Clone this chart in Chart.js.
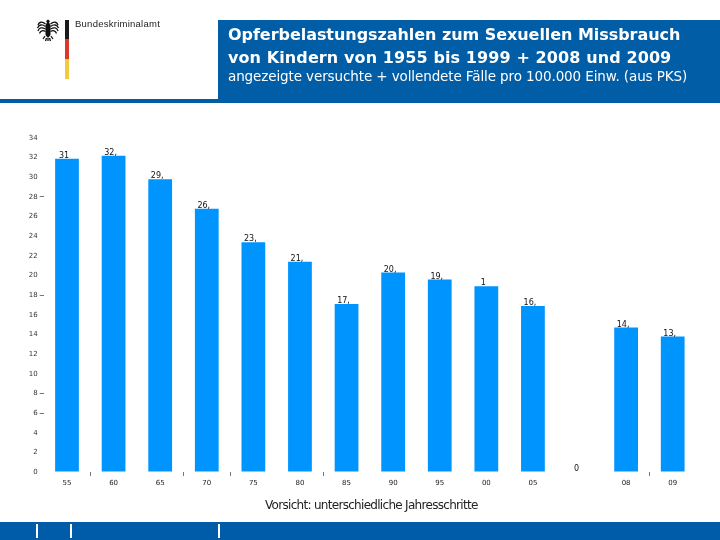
<!DOCTYPE html>
<html>
<head>
<meta charset="utf-8">
<script src="https://cdn.jsdelivr.net/npm/chart.js@4"></script>
<style>
  html, body { margin: 0; padding: 0; background: #fff; }
  #page { position: relative; width: 720px; height: 540px; overflow: hidden; font-family: "DejaVu Sans", sans-serif; }
  #page div { position: absolute; white-space: nowrap; }
  canvas { position: absolute; left: 0; top: 0; }
  .white { color: #fff; }
</style>
</head>
<body>
<div id="page">
  <canvas id="chart" width="720" height="540"></canvas>

  <!-- logo -->
  <svg style="position:absolute;left:36px;top:18px" width="24" height="24" viewBox="0 0 24 24">
    <g fill="none" stroke="#111" stroke-width="1.300">
      <path d="M9.500 6C6 3 3 4 2 7M9.500 8.500C6 6 3 6.500 1.500 10M9.500 11C6 9 3 9.500 2 13M9.500 13.500C7 12 4.500 12.500 3.500 15.500"/>
      <path d="M14.500 6C18 3 21 4 22 7M14.500 8.500C18 6 21 6.500 22.500 10M14.500 11C18 9 21 9.500 22 13M14.500 13.500C17 12 19.500 12.500 20.500 15.500"/>
      <path d="M9 18l-2 3M15 18l2 3M12 20v3M10.500 20l-1 3M13.500 20l1 3"/>
    </g>
    <path fill="#111" d="M12 1.500l2 1.500-1 1.500 1.500 2.500v10l-2.500 3-2.500-3v-10l1.500-2.500-1-1.500z"/>
  </svg>
  <div style="left:65px;top:20px;width:4px;height:19px;background:#1a1a1a"></div>
  <div style="left:65px;top:39px;width:4px;height:20px;background:#d8392b"></div>
  <div style="left:65px;top:59px;width:4px;height:20px;background:#f2cb3d"></div>
  <div style="left:75px;top:18px;font:9.500px 'Liberation Sans';letter-spacing:.25px;color:#222">Bundeskriminalamt</div>

  <!-- header -->
  <div style="left:0;top:99px;width:218px;height:4px;background:#005da3"></div>
  <div style="left:218px;top:20px;width:502px;height:83px;background:#005da6"></div>
  <div class="white" style="left:228px;top:24px;font:bold 16px/22px 'DejaVu Sans';letter-spacing:-.05px">Opferbelastungszahlen zum Sexuellen Missbrauch</div>
  <div class="white" style="left:228px;top:47px;font:bold 16px/22px 'DejaVu Sans';letter-spacing:.1px">von Kindern von 1955 bis 1999 + 2008 und 2009</div>
  <div class="white" style="left:228px;top:67px;font:13.500px/18px 'DejaVu Sans';letter-spacing:-.11px">angezeigte versuchte + vollendete Fälle pro 100.000 Einw. (aus PKS)</div>

  <!-- footer -->
  <div style="left:265px;top:498px;font:12px/15px 'DejaVu Sans';letter-spacing:-.7px;color:#222">Vorsicht: unterschiedliche Jahresschritte</div>
  <div style="left:0;top:522px;width:720px;height:18px;background:#005ca8"></div>
  <div style="left:36px;top:524px;width:2px;height:14px;background:#fff"></div>
  <div style="left:70px;top:524px;width:2px;height:14px;background:#fff"></div>
  <div style="left:218px;top:524px;width:2px;height:14px;background:#fff"></div>
</div>

<script>
// values
const years = ['55', '60', '65', '70', '75', '80', '85', '90', '95', '00', '05', '', '08', '09'];
const rates = [31.9, 32.2, 29.8, 26.8, 23.4, 21.4, 17.1, 20.3, 19.6, 18.9, 16.9, 0, 14.7, 13.8];
// the labels are cut off in the original slide, so keep them like that
const barLabels = ['31', '32,', '29,', '26,', '23,', '21,', '17,', '20,', '19,', '1', '16,', '0', '14,', '13,'];
const yTicks = [0, 2, 4, 6, 8, 10, 12, 14, 16, 18, 20, 22, 24, 26, 28, 30, 32, 34];

// only a few of the tick marks survive in the original
const yMarks = [6, 8, 18, 28];
const xMarks = [1, 3, 4, 6, 13];

const barLabelPlugin = {
  id: 'barLabels',
  afterDatasetsDraw(chart) {
    const ctx = chart.ctx;
    const bars = chart.getDatasetMeta(0).data;
    ctx.save();
    ctx.font = '8px "DejaVu Sans"';
    ctx.fillStyle = '#111';
    ctx.textAlign = 'center';
    ctx.textBaseline = 'bottom';
    bars.forEach((bar, i) => {
      ctx.fillText(barLabels[i], bar.x - 3, bar.y + 1);
    });
    ctx.restore();
  }
};

new Chart(document.getElementById('chart'), {
  type: 'bar',
  data: {
    labels: years,
    datasets: [{
      data: rates,
      backgroundColor: '#0094ff',
      borderWidth: 0,
      categoryPercentage: 1,
      barPercentage: 0.51
    }]
  },
  plugins: [barLabelPlugin],
  options: {
    responsive: false,
    animation: false,
    layout: { padding: { top: 138, right: 24, bottom: 48, left: 0 } },
    plugins: { legend: { display: false }, tooltip: { enabled: false } },
    scales: {
      x: {
        afterFit: scale => { scale.height = 20; },
        border: { display: false },
        grid: {
          offset: true,
          drawOnChartArea: false,
          tickLength: 4,
          tickColor: c => xMarks.includes(c.index) ? '#777' : 'transparent'
        },
        ticks: { color: '#222', font: { size: 7, family: 'DejaVu Sans' }, padding: 3, maxRotation: 0, autoSkip: false }
      },
      y: {
        min: 0,
        max: 34,
        afterFit: scale => { scale.width = 43.7; },
        afterBuildTicks: scale => { scale.ticks = yTicks.map(v => ({ value: v })); },
        border: { display: false },
        grid: {
          drawOnChartArea: false,
          tickLength: 4,
          tickColor: c => c.tick && yMarks.includes(c.tick.value) ? '#777' : 'transparent'
        },
        ticks: { color: '#333', font: { size: 7, family: 'DejaVu Sans' }, padding: 2 }
      }
    }
  }
});
</script>
</body>
</html>
